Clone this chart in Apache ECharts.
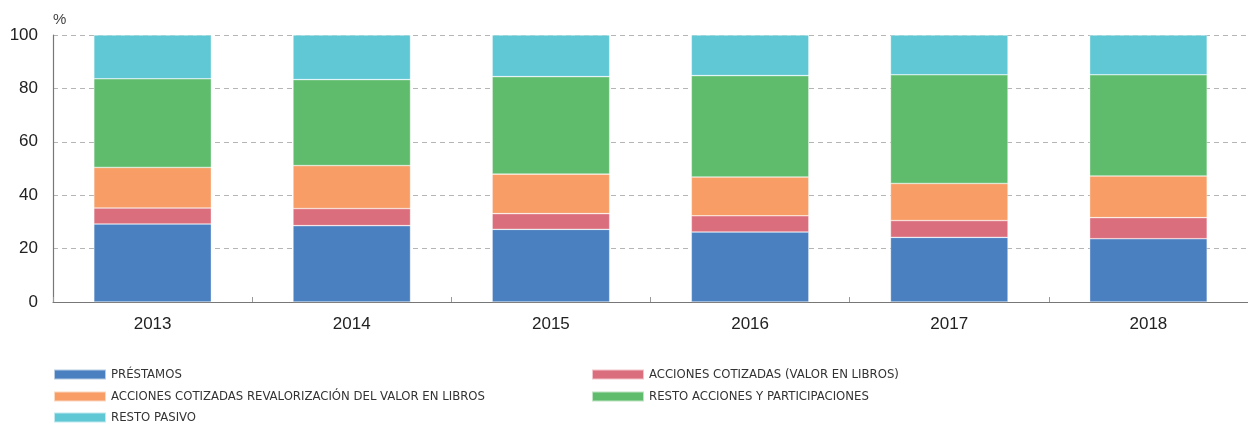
<!DOCTYPE html>
<html>
<head>
<meta charset="utf-8">
<script src="https://cdn.jsdelivr.net/npm/echarts@6/dist/echarts.min.js"></script>
<style>
  html, body { margin: 0; padding: 0; background: #fff; }
  #chart { width: 1248px; height: 424px; }
</style>
</head>
<body>
<div id="chart"></div>
<script>
// Years on the horizontal axis
const years = ['2013', '2014', '2015', '2016', '2017', '2018'];

// Share of each component (%), stacked to 100
const prestamos      = [29.2, 28.6, 27.2, 26.2, 24.2, 23.7];
const accCotizadas   = [6.0, 6.4, 5.9, 6.1, 6.3, 7.9];
const accRevalorizac = [15.2, 16.1, 14.8, 14.5, 13.9, 15.6];
const restoAcciones  = [33.2, 32.2, 36.5, 38.0, 40.7, 37.9];
const restoPasivo    = [16.4, 16.7, 15.6, 15.2, 14.9, 14.9];

const seriesNames = [
  'PRÉSTAMOS',
  'ACCIONES COTIZADAS (VALOR EN LIBROS)',
  'ACCIONES COTIZADAS REVALORIZACIÓN DEL VALOR EN LIBROS',
  'RESTO ACCIONES Y PARTICIPACIONES',
  'RESTO PASIVO'
];
const seriesData = [prestamos, accCotizadas, accRevalorizac, restoAcciones, restoPasivo];
const colors = ['#4a7fc0', '#db6e7d', '#f79d65', '#5fbc6c', '#60c8d5'];

const chart = echarts.init(document.getElementById('chart'), null, { renderer: 'canvas' });

const legendFont = { fontFamily: '"Liberation Sans Narrow", "DejaVu Sans Condensed", "Liberation Sans", sans-serif', fontSize: 13, color: '#333' };
// Legend placement: two columns, three rows
const legendPos = [
  { left: 53, top: 368 },
  { left: 591, top: 368 },
  { left: 53, top: 390 },
  { left: 591, top: 390 },
  { left: 53, top: 411 }
];
const legends = seriesNames.map((n, i) => ({
  data: [n],
  left: legendPos[i].left,
  top: legendPos[i].top,
  padding: 0,
  itemWidth: 52,
  itemHeight: 10,
  itemGap: 8,
  icon: 'rect',
  selectedMode: false,
  textStyle: legendFont
}));

chart.setOption({
  animation: false,
  color: colors,
  textStyle: { fontFamily: '"Liberation Sans", Arial, sans-serif' },
  legend: legends,
  // plot area runs slightly past the right edge of the canvas
  grid: { left: 53, width: 1204, top: 35, bottom: 122, containLabel: false },
  graphic: [{
    type: 'text', left: 53, top: 12,
    style: { text: '%', fontSize: 15, fill: '#444', fontFamily: '"Liberation Sans", Arial, sans-serif' }
  }],
  xAxis: {
    type: 'category',
    data: years,
    axisLine: { lineStyle: { color: '#777', width: 1.2 } },
    axisTick: { show: true, inside: true, length: 5, lineStyle: { color: '#999' } },
    axisLabel: { fontSize: 17, color: '#222', margin: 14 }
  },
  yAxis: {
    type: 'value',
    min: 0, max: 100, interval: 20,
    axisLine: { show: true, lineStyle: { color: '#777', width: 1.2 } },
    axisTick: { show: false },
    axisLabel: { fontSize: 17, color: '#222', margin: 15 },
    splitLine: { lineStyle: { color: '#b5b5b5', type: [5, 4] } }
  },
  series: seriesData.map((d, i) => ({
    name: seriesNames[i],
    type: 'bar',
    stack: 'total',
    data: d,
    barWidth: '59%',
    itemStyle: { color: colors[i], borderColor: 'rgba(255,255,255,0.6)', borderWidth: 0.6 }
  }))
});
</script>
</body>
</html>
